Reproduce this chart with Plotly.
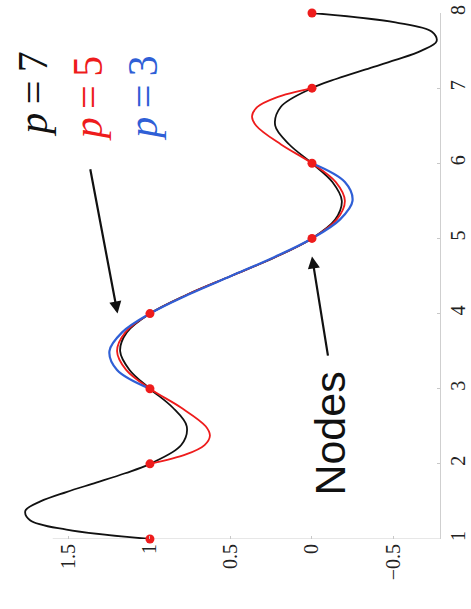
import plotly.graph_objects as go

# Interpolation nodes
x_nodes = [1, 2, 3, 4, 5, 6, 7, 8]
f_nodes = [1, 1, 1, 1, 0, 0, 0, 0]

# p = 7 curve (black)
x_p7 = [1, 1.125, 1.25, 1.375, 1.5, 1.625, 1.75, 1.875, 2, 2.25, 2.5, 2.75, 3,
        3.25, 3.5, 3.75, 4, 4.25, 4.5, 4.75, 5, 5.25, 5.5, 5.75, 6, 6.25, 6.5,
        6.75, 7, 7.125, 7.25, 7.375, 7.5, 7.625, 7.75, 7.875, 8]
f_p7 = [1, 1.515, 1.740, 1.769, 1.676, 1.516, 1.332, 1.153, 1, 0.807, 0.773,
        0.860, 1, 1.126, 1.184, 1.143, 1, 0.773, 0.5, 0.227, 0, -0.143, -0.184,
        -0.126, 0, 0.140, 0.227, 0.193, 0, -0.153, -0.332, -0.516, -0.676,
        -0.769, -0.740, -0.515, 0]

# p = 5 curve (red)
x_p5 = [2, 2.125, 2.25, 2.375, 2.5, 2.75, 3, 3.25, 3.5, 3.75, 4, 4.25, 4.5,
        4.75, 5, 5.25, 5.5, 5.75, 6, 6.25, 6.5, 6.625, 6.75, 6.875, 7]
f_p5 = [1, 0.778, 0.663, 0.630, 0.656, 0.809, 1, 1.147, 1.203, 1.152, 1, 0.771,
        0.5, 0.229, 0, -0.152, -0.203, -0.147, 0, 0.191, 0.344, 0.370, 0.337,
        0.222, 0]

# p = 3 curve (blue)
x_p3 = [3, 3.25, 3.5, 3.75, 4, 4.25, 4.5, 4.75, 5, 5.25, 5.5, 5.75, 6]
f_p3 = [1, 1.203, 1.25, 1.172, 1, 0.766, 0.5, 0.234, 0, -0.172, -0.25, -0.203, 0]

# Axis ticks
value_ticks = [-0.5, 0, 0.5, 1, 1.5]
value_labels = ["\u22120.5", "0", "0.5", "1", "1.5"]
x_ticks = [1, 2, 3, 4, 5, 6, 7, 8]
x_labels = ["1", "2", "3", "4", "5", "6", "7", "8"]

BLACK = "#111111"
RED = "#ee1c1c"
BLUE = "#2f5fd6"

fig = go.Figure()
fig.add_trace(go.Scatter(x=f_p7, y=x_p7, mode="lines", line=dict(color=BLACK, width=1.8, shape="spline"),
                         showlegend=False, hoverinfo="skip"))
fig.add_trace(go.Scatter(x=f_p5, y=x_p5, mode="lines", line=dict(color=RED, width=1.8, shape="spline"),
                         showlegend=False, hoverinfo="skip"))
fig.add_trace(go.Scatter(x=f_p3, y=x_p3, mode="lines", line=dict(color=BLUE, width=2.2, shape="spline"),
                         showlegend=False, hoverinfo="skip"))
fig.add_trace(go.Scatter(x=f_nodes, y=x_nodes, mode="markers",
                         marker=dict(color=RED, size=9, line=dict(width=0)),
                         showlegend=False, hoverinfo="skip", cliponaxis=False))

serif = "Liberation Serif"

labels = [
    ("<i>p</i>\u2009=\u20097", BLACK, 1.72, 6.93),
    ("<i>p</i>\u2009=\u20095", RED, 1.38, 6.87),
    ("<i>p</i>\u2009=\u20093", BLUE, 1.04, 6.88),
]
for txt, col, fx, xx in labels:
    fig.add_annotation(x=fx, y=xx, xref="x", yref="y", text=txt, showarrow=False,
                       textangle=-90, font=dict(family=serif, size=42, color=col))

fig.add_annotation(x=-0.11, y=2.40, xref="x", yref="y", text="Nodes", showarrow=False,
                   textangle=-90, font=dict(family="Liberation Sans", size=43, color=BLACK))

# arrows
fig.add_annotation(x=1.2, y=4.0, ax=1.37, ay=5.94, xref="x", yref="y", axref="x", ayref="y",
                   text="", showarrow=True, arrowhead=2, arrowsize=1.1, arrowwidth=2.2, arrowcolor=BLACK)
fig.add_annotation(x=0.0, y=4.76, ax=-0.1, ay=3.42, xref="x", yref="y", axref="x", ayref="y",
                   text="", showarrow=True, arrowhead=2, arrowsize=1.1, arrowwidth=2.2, arrowcolor=BLACK)

# bottom axis line (partial, as in the reference)
fig.add_shape(type="line", x0=1.6, x1=-0.79, y0=1, y1=1, xref="x", yref="y",
              line=dict(color="#cfcfcf", width=1), layer="below")

fig.update_layout(
    width=471, height=609,
    margin=dict(l=20, r=31, t=13, b=70, autoexpand=False),
    paper_bgcolor="white", plot_bgcolor="white",
    hovermode=False,
    xaxis=dict(range=[1.802, -0.79], tickvals=value_ticks, ticktext=value_labels,
               tickangle=-90, showgrid=False, zeroline=False, showline=False,
               automargin=False,
               ticks="inside", ticklen=3, tickcolor="#c8c8c8",
               tickfont=dict(family=serif, size=20, color="#222222")),
    yaxis=dict(range=[1, 8], side="right", tickvals=x_ticks, ticktext=x_labels,
               tickangle=-90, showgrid=False, zeroline=False, showline=True,
               automargin=False,
               linecolor="#cfcfcf", linewidth=1, ticks="inside", ticklen=3,
               tickcolor="#c8c8c8",
               tickfont=dict(family=serif, size=20, color="#222222")),
)

fig.write_html("out.html",
               config={"displayModeBar": False, "staticPlot": True},
               post_script="document.body.style.margin='0';document.body.style.overflow='hidden';")
